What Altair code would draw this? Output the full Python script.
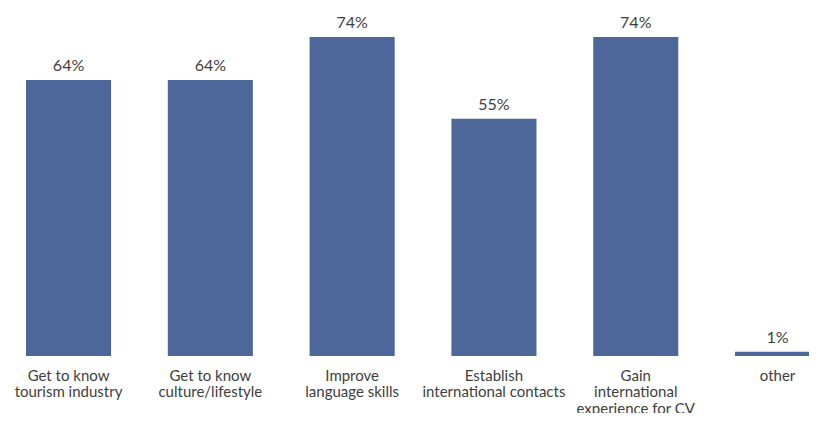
import altair as alt
import pandas as pd

categories = [
    "Get to know|tourism industry",
    "Get to know|culture/lifestyle",
    "Improve|language skills",
    "Establish|international contacts",
    "Gain|international|experience for CV",
    "other",
]
values = [64, 64, 74, 55, 74, 1]
value_labels = ["64%", "64%", "74%", "55%", "74%", "1%"]

df = pd.DataFrame({"cat": categories, "value": values, "label": value_labels})

FONT = "Lato"
TEXT = "#3e3e3e"

x = alt.X(
    "cat:N",
    sort=None,
    title=None,
    scale=alt.Scale(range=[18, 812.1], paddingInner=0.4, paddingOuter=0),
    axis=alt.Axis(
        labelAngle=0,
        labelExpr="split(datum.label, '|')",
        domain=False,
        ticks=False,
        labelPadding=12,
        labelFont=FONT,
        labelFontSize=15,
        labelColor=TEXT,
        labelLineHeight=16.5,
        labelLimit=0,
        labelBaseline="top",
    ),
)
y = alt.Y("value:Q", axis=None, scale=alt.Scale(domain=[0, 80.7], nice=False))

bars = alt.Chart(df).mark_bar(color="#4e679a", clip=True).encode(x=x, y=y)
texts = alt.Chart(df).mark_text(
    dy=-9, baseline="alphabetic", font=FONT, fontSize=16, color=TEXT
).encode(x=x, y=y, text="label:N")

chart = (
    alt.layer(bars, texts)
    .properties(
        width=801,
        height=348,
        padding={"left": 0, "top": 0, "right": 0, "bottom": 57},
        autosize="none",
        background="white",
    )
    .configure_view(strokeWidth=0, stroke="transparent")
)

chart.save("out.html", embed_options={"renderer": "svg", "actions": False})
